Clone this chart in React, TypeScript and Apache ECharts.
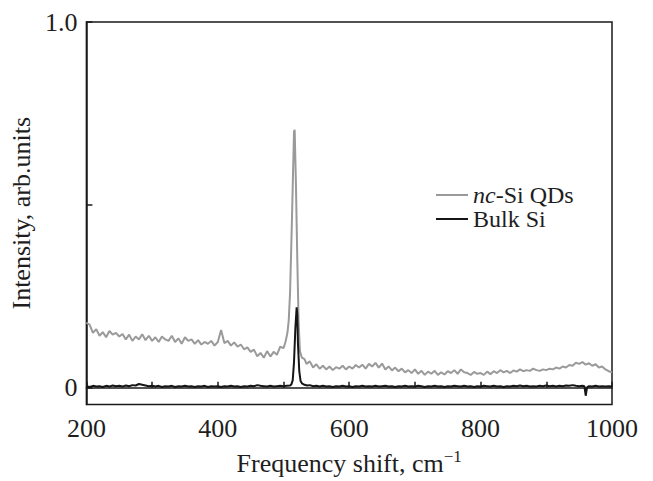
import React, { useEffect, useRef } from "react";
import * as echarts from "echarts";

const xTicksLabelled = [200, 400, 600, 800, 1000];
const yTickValues = [0, 0.5, 1.0];
const yLabelValues = [0, 1.0];

// nc-Si QDs (grey)
const qdData: [number, number][] = [
  [200, 0.178], [205, 0.172], [210, 0.150], [215, 0.160], [220, 0.142], [225, 0.152],
  [230, 0.138], [235, 0.155], [240, 0.145], [245, 0.150], [250, 0.140], [255, 0.147],
  [260, 0.132], [265, 0.145], [270, 0.128], [275, 0.140], [280, 0.132], [285, 0.146],
  [290, 0.130], [295, 0.142], [300, 0.128], [305, 0.138], [310, 0.125], [315, 0.140],
  [320, 0.132], [325, 0.128], [330, 0.142], [335, 0.125], [340, 0.135], [345, 0.120],
  [350, 0.138], [355, 0.128], [360, 0.132], [365, 0.120], [370, 0.130], [375, 0.118],
  [380, 0.125], [385, 0.120], [390, 0.128], [395, 0.115], [400, 0.125], [405, 0.158],
  [410, 0.122], [415, 0.128], [420, 0.115], [425, 0.124], [430, 0.112], [435, 0.118],
  [440, 0.105], [445, 0.110], [450, 0.098], [455, 0.104], [460, 0.086], [465, 0.095],
  [470, 0.082], [475, 0.100], [480, 0.085], [485, 0.098], [490, 0.090], [495, 0.112],
  [500, 0.108], [503, 0.125], [506, 0.150], [508, 0.185], [510, 0.26], [513, 0.47],
  [516, 0.70], [517, 0.705], [519, 0.55], [521, 0.35], [523, 0.18], [525, 0.10],
  [528, 0.082], [532, 0.078], [535, 0.065], [540, 0.072], [545, 0.055], [550, 0.064],
  [555, 0.052], [560, 0.060], [565, 0.050], [570, 0.058], [575, 0.048], [580, 0.056],
  [585, 0.052], [590, 0.060], [595, 0.050], [600, 0.058], [605, 0.052], [610, 0.062],
  [615, 0.055], [620, 0.063], [625, 0.052], [630, 0.065], [635, 0.058], [640, 0.068],
  [645, 0.055], [650, 0.066], [655, 0.050], [660, 0.058], [665, 0.047], [670, 0.055],
  [675, 0.045], [680, 0.052], [685, 0.042], [690, 0.048], [695, 0.040], [700, 0.050],
  [705, 0.038], [710, 0.046], [715, 0.035], [720, 0.044], [725, 0.038], [730, 0.046],
  [735, 0.035], [740, 0.042], [745, 0.036], [750, 0.045], [755, 0.040], [760, 0.048],
  [765, 0.038], [770, 0.050], [775, 0.042], [780, 0.040], [785, 0.035], [790, 0.043],
  [795, 0.038], [800, 0.040], [805, 0.035], [810, 0.044], [815, 0.037], [820, 0.045],
  [825, 0.040], [830, 0.048], [835, 0.042], [840, 0.046], [845, 0.040], [850, 0.047],
  [855, 0.044], [860, 0.050], [865, 0.045], [870, 0.048], [875, 0.046], [880, 0.052],
  [885, 0.048], [890, 0.046], [895, 0.050], [900, 0.048], [905, 0.052], [910, 0.050],
  [915, 0.055], [920, 0.052], [925, 0.058], [930, 0.055], [935, 0.062], [940, 0.060],
  [945, 0.068], [950, 0.065], [955, 0.070], [960, 0.063], [965, 0.067], [970, 0.060],
  [975, 0.064], [980, 0.055], [985, 0.058], [990, 0.050], [995, 0.045], [1000, 0.042],
];

// Bulk Si (black)
const bulkData: [number, number][] = [
  [200, 0.004], [205, 0.002], [210, 0.005], [215, 0.003], [220, 0.004], [225, 0.002],
  [230, 0.005], [235, 0.003], [240, 0.006], [245, 0.004], [250, 0.005], [255, 0.003],
  [260, 0.006], [265, 0.004], [270, 0.007], [275, 0.006], [280, 0.010], [285, 0.008],
  [290, 0.006], [295, 0.004], [300, 0.005], [305, 0.003], [310, 0.005], [315, 0.002],
  [320, 0.004], [325, 0.003], [330, 0.005], [335, 0.002], [340, 0.004], [345, 0.003],
  [350, 0.005], [355, 0.003], [360, 0.004], [365, 0.002], [370, 0.004], [375, 0.003],
  [380, 0.005], [385, 0.002], [390, 0.004], [395, 0.003], [400, 0.004], [405, 0.002],
  [410, 0.004], [415, 0.003], [420, 0.005], [425, 0.003], [430, 0.004], [435, 0.002],
  [440, 0.004], [445, 0.003], [450, 0.005], [455, 0.004], [460, 0.007], [465, 0.005],
  [470, 0.004], [475, 0.003], [480, 0.005], [485, 0.003], [490, 0.004], [495, 0.005],
  [500, 0.004], [505, 0.005], [510, 0.006], [512, 0.009], [514, 0.020], [516, 0.07],
  [518, 0.16], [520, 0.22], [521, 0.20], [522, 0.12], [524, 0.045], [526, 0.018],
  [528, 0.012], [532, 0.008], [536, 0.006], [540, 0.007], [545, 0.004], [550, 0.005],
  [555, 0.003], [560, 0.005], [565, 0.003], [570, 0.004], [575, 0.002], [580, 0.004],
  [585, 0.003], [590, 0.005], [595, 0.003], [600, 0.004], [605, 0.002], [610, 0.004],
  [615, 0.003], [620, 0.005], [625, 0.003], [630, 0.004], [635, 0.003], [640, 0.005],
  [645, 0.003], [650, 0.004], [655, 0.005], [660, 0.003], [665, 0.004], [670, 0.002],
  [675, 0.004], [680, 0.003], [685, 0.005], [690, 0.003], [695, 0.004], [700, 0.003],
  [705, 0.005], [710, 0.004], [715, 0.002], [720, 0.004], [725, 0.003], [730, 0.005],
  [735, 0.003], [740, 0.004], [745, 0.002], [750, 0.004], [755, 0.003], [760, 0.005],
  [765, 0.004], [770, 0.003], [775, 0.005], [780, 0.003], [785, 0.004], [790, 0.002],
  [795, 0.004], [800, 0.003], [805, 0.005], [810, 0.004], [815, 0.003], [820, 0.005],
  [825, 0.003], [830, 0.004], [835, 0.002], [840, 0.004], [845, 0.003], [850, 0.005],
  [855, 0.004], [860, 0.006], [865, 0.004], [870, 0.005], [875, 0.003], [880, 0.004],
  [885, 0.003], [890, 0.005], [895, 0.004], [900, 0.006], [905, 0.004], [910, 0.005],
  [915, 0.003], [920, 0.005], [925, 0.004], [930, 0.006], [935, 0.005], [940, 0.007],
  [945, 0.005], [950, 0.004], [955, 0.005], [958, 0.004], [960, -0.022], [962, 0.001],
  [965, 0.004], [970, 0.003], [975, 0.005], [980, 0.003], [985, 0.004], [990, 0.003],
  [995, 0.004], [1000, 0.003],
];

const FONT = "Liberation Serif";
const TXT = "#1e1e1e";

export default function App() {
  const ref = useRef<HTMLDivElement>(null);
  useEffect(() => {
    if (!ref.current) return;
    const chart = echarts.init(ref.current, undefined, { renderer: "svg" });
    chart.setOption({
      animation: false,
      backgroundColor: "#ffffff",
      grid: {
        left: 86,
        right: 41,
        top: 22,
        bottom: 73,
        show: true,
        borderColor: "#1a1a1a",
        borderWidth: 1.5,
      },
      legend: {
        left: 431,
        top: 178,
        orient: "vertical",
        itemWidth: 32,
        itemHeight: 14,
        itemGap: 0,
        icon: "path://M0,6 L32,6 L32,8 L0,8 Z",
        textStyle: {
          fontFamily: FONT,
          fontSize: 24,
          lineHeight: 23,
          color: TXT,
          rich: {
            i: { fontFamily: FONT, fontSize: 24, lineHeight: 23, fontStyle: "italic", color: TXT },
            n: { fontFamily: FONT, fontSize: 24, lineHeight: 23, color: TXT },
          },
        },
        formatter: (name: string) =>
          name === "nc-Si QDs" ? "{i|nc}{n|-Si QDs}" : "{n|" + name + "}",
        data: ["nc-Si QDs", "Bulk Si"],
      },
      xAxis: {
        type: "value",
        min: 200,
        max: 1000,
        interval: 100,
        name: "{t|Frequency shift, cm}{sup|\u22121}",
        nameLocation: "middle",
        nameGap: 43,
        nameTextStyle: {
          fontFamily: FONT,
          fontSize: 26,
          color: TXT,
          rich: {
            t: { fontFamily: FONT, fontSize: 26, color: TXT },
            sup: { fontFamily: FONT, fontSize: 17, color: TXT, verticalAlign: "top", padding: [0, 0, 14, 0] },
          },
        },
        axisLine: { lineStyle: { color: "#1a1a1a", width: 1.5 } },
        axisTick: { inside: true, length: 6, lineStyle: { color: "#1a1a1a", width: 1.5 } },
        axisLabel: {
          fontFamily: FONT,
          fontSize: 26,
          color: TXT,
          margin: 11,
          formatter: (v: number) => (xTicksLabelled.includes(v) ? String(v) : ""),
        },
        splitLine: { show: false },
      },
      yAxis: {
        type: "value",
        min: -0.046,
        max: 1.0,
        name: "Intensity, arb.units",
        nameLocation: "middle",
        nameGap: 50,
        nameTextStyle: { fontFamily: FONT, fontSize: 26, color: TXT },
        axisLine: { lineStyle: { color: "#1a1a1a", width: 1.5 } },
        axisTick: {
          inside: true,
          length: 6,
          customValues: yTickValues,
          lineStyle: { color: "#1a1a1a", width: 1.5 },
        },
        axisLabel: {
          fontFamily: FONT,
          fontSize: 26,
          color: TXT,
          margin: 9,
          customValues: yLabelValues,
          formatter: (v: number) => (v === 0 ? "0" : v.toFixed(1)),
        },
        splitLine: { show: false },
      },
      series: [
        {
          name: "nc-Si QDs",
          type: "line",
          data: qdData,
          symbol: "none",
          lineStyle: { color: "#9a9a9a", width: 2 },
          itemStyle: { color: "#9a9a9a" },
          z: 2,
        },
        {
          name: "Bulk Si",
          type: "line",
          data: bulkData,
          symbol: "none",
          lineStyle: { color: "#151515", width: 2 },
          itemStyle: { color: "#151515" },
          z: 3,
        },
      ],
    });
    return () => chart.dispose();
  }, []);
  return (
    <div
      ref={ref}
      style={{ position: "absolute", left: 0, top: 0, width: 653, height: 481 }}
    />
  );
}
